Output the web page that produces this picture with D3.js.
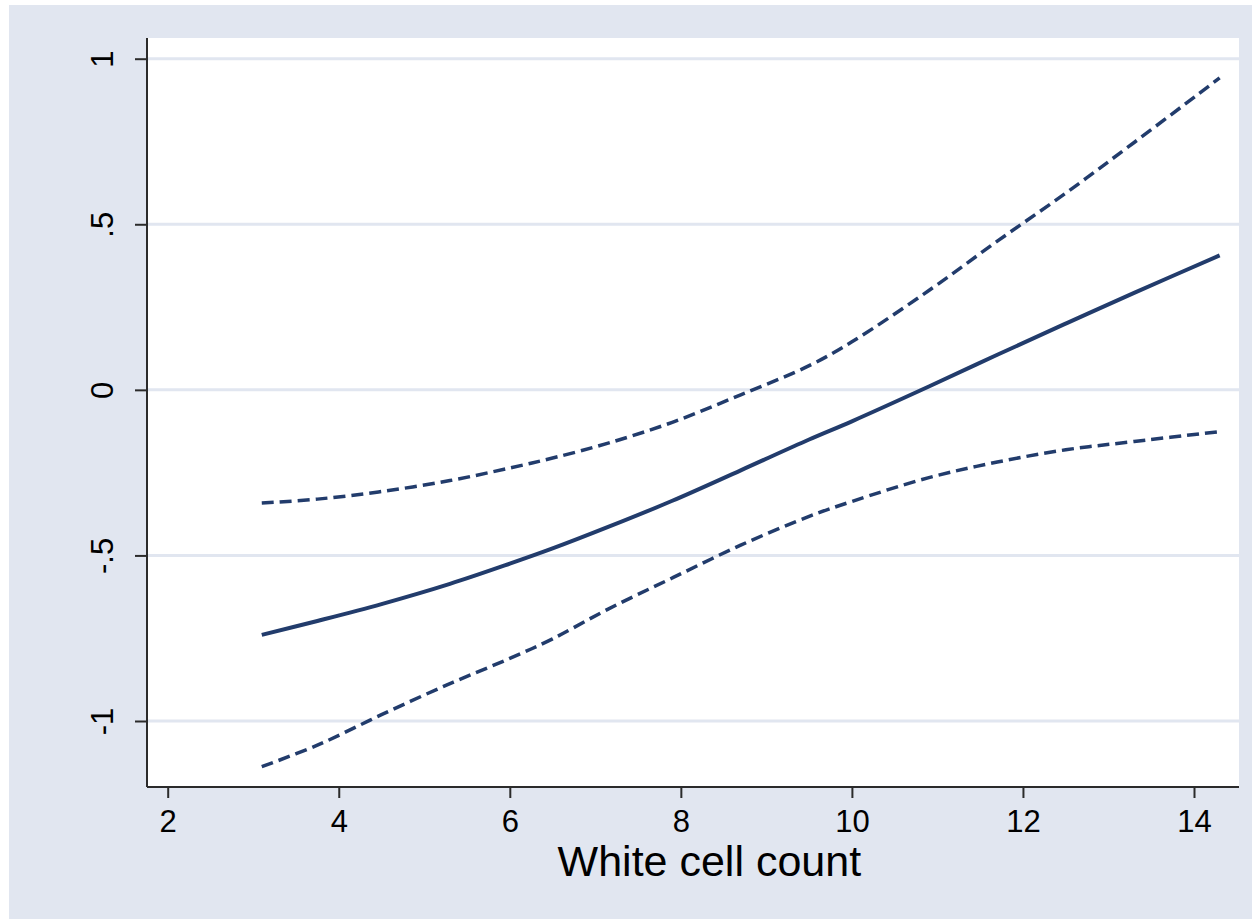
<!DOCTYPE html>
<html>
<head>
<meta charset="utf-8">
<script src="https://cdn.jsdelivr.net/npm/d3@7"></script>
<style>
    body { margin: 0; background: #ffffff; }
    svg { display: block; font-family: "Liberation Sans", Arial, sans-serif; }
</style>
</head>
<body>
<svg id="chart"></svg>
<script>
// values
const wcc = [3.1, 3.75, 4.5, 5.3, 6, 6.5, 7.15, 7.9, 8.7, 9.5, 10, 10.9, 11.7, 12.5, 13.3, 14.3];
const fit = [-0.740, -0.698, -0.647, -0.586, -0.525, -0.479, -0.414, -0.335, -0.243, -0.150, -0.095, 0.010, 0.106, 0.200, 0.293, 0.406];
const upper = [-0.342, -0.330, -0.307, -0.274, -0.236, -0.206, -0.161, -0.098, -0.015, 0.073, 0.145, 0.300, 0.449, 0.594, 0.747, 0.942];
const lower = [-1.138, -1.073, -0.981, -0.887, -0.811, -0.752, -0.662, -0.568, -0.469, -0.382, -0.337, -0.265, -0.218, -0.181, -0.156, -0.126];
const xTicks = [2, 4, 6, 8, 10, 12, 14];
const yTicks = [-1, -0.5, 0, 0.5, 1];
const yTickLabels = ['-1', '-.5', '0', '.5', '1'];
const xTitle = 'White cell count';

class LinePlot {
    constructor(_config) {
        this.config = {
            parentElement: _config.parentElement,
            containerWidth: _config.containerWidth || 1257,
            containerHeight: _config.containerHeight || 919,
            margin: { top: 38, bottom: 132, right: 18, left: 147 }
        }
        this.initVis();
    }

    initVis() {
        let vis = this;
        vis.width = vis.config.containerWidth - vis.config.margin.left - vis.config.margin.right;
        vis.height = vis.config.containerHeight - vis.config.margin.top - vis.config.margin.bottom;

        vis.navy = '#223c6c';
        vis.bg = '#e1e6f0';

        vis.svg = d3.select(vis.config.parentElement)
            .attr('width', vis.config.containerWidth)
            .attr('height', vis.config.containerHeight);

        // outer graph region
        vis.svg.append('rect')
            .attr('x', 9)
            .attr('y', 5)
            .attr('width', vis.config.containerWidth - 14)
            .attr('height', vis.config.containerHeight - 5)
            .attr('fill', vis.bg);

        vis.chart = vis.svg.append('g')
            .attr('transform', `translate(${vis.config.margin.left},${vis.config.margin.top})`);

        vis.chart.append('rect')
            .attr('width', vis.width)
            .attr('height', vis.height)
            .attr('fill', '#ffffff');

        vis.updateVis();
    }

    updateVis() {
        let vis = this;

        // 2 -> 167.7px, 14 -> 1194px on the page
        vis.xScale = d3.scaleLinear()
            .domain([2, 14])
            .range([167.7 - vis.config.margin.left, 1194 - vis.config.margin.left]);
        vis.yScale = d3.scaleLinear()
            .domain([-1, 1])
            .range([721 - vis.config.margin.top, 58.7 - vis.config.margin.top]);

        // gridlines
        vis.chart.selectAll('.grid')
            .data(yTicks)
            .enter()
            .append('line')
            .attr('class', 'grid')
            .attr('x1', 0)
            .attr('x2', vis.width)
            .attr('y1', d => vis.yScale(d))
            .attr('y2', d => vis.yScale(d))
            .attr('stroke', vis.bg)
            .attr('stroke-width', 3);

        vis.yAxis = d3.axisLeft(vis.yScale)
            .tickValues(yTicks)
            .tickSize(12)
            .tickPadding(22)
            .tickFormat((d, i) => yTickLabels[i]);

        vis.yAxisG = vis.chart.append('g')
            .attr('class', 'axis y-axis')
            .call(vis.yAxis);
        vis.yAxisG.select('.domain')
            .attr('d', `M0,0V${vis.height}`);

        vis.xAxis = d3.axisBottom(vis.xScale)
            .tickValues(xTicks)
            .tickSize(11)
            .tickPadding(12);

        vis.xAxisG = vis.chart.append('g')
            .attr('class', 'axis x-axis')
            .attr('transform', `translate(0,${vis.height})`)
            .call(vis.xAxis);
        vis.xAxisG.select('.domain')
            .attr('d', `M0,0H${vis.width}`);

        vis.chart.selectAll('.axis path, .axis line')
            .attr('stroke', '#2b2b2b')
            .attr('stroke-width', 2);
        vis.chart.selectAll('.axis text')
            .attr('fill', '#000')
            .style('font-size', '31px');

        // rotate the y labels like Stata does
        vis.yAxisG.selectAll('.tick text')
            .attr('x', null)
            .attr('dy', null)
            .attr('text-anchor', 'middle')
            .attr('transform', 'translate(-34,0) rotate(-90)');

        // x title
        vis.chart.append('text')
            .attr('x', (vis.xScale(2) + vis.width + 20) / 2 - 4)
            .attr('y', 876 - vis.config.margin.top)
            .attr('text-anchor', 'middle')
            .attr('fill', '#000')
            .style('font-size', '43px')
            .text(xTitle);

        vis.line = d3.line()
            .x(d => vis.xScale(d[0]))
            .y(d => vis.yScale(d[1]))
            .curve(d3.curveCatmullRom.alpha(0.5));

        const series = [
            { key: 'lower', values: lower, dash: '12,6', w: 3.5 },
            { key: 'upper', values: upper, dash: '12,6', w: 3.5 },
            { key: 'fit', values: fit, dash: null, w: 4 }
        ];

        vis.chart.selectAll('.series')
            .data(series)
            .enter()
            .append('path')
            .attr('class', 'series')
            .attr('d', s => vis.line(wcc.map((x, i) => [x, s.values[i]])))
            .attr('fill', 'none')
            .attr('stroke', vis.navy)
            .attr('stroke-width', s => s.w)
            .attr('stroke-dasharray', s => s.dash);
    }
}

let plot = new LinePlot({ parentElement: '#chart' });
</script>
</body>
</html>
